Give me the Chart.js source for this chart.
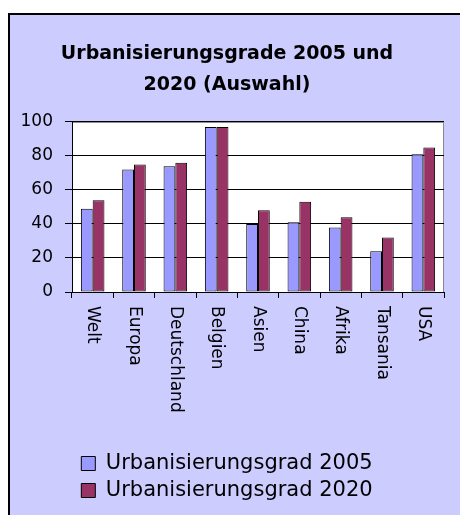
<!DOCTYPE html>
<html>
<head>
<meta charset="utf-8">
<script src="https://cdn.jsdelivr.net/npm/chart.js@4"></script>
<style>
  body { margin: 0; background: #fff; }
  #box {
    position: absolute; left: 8px; top: 13px;
    width: 460px; height: 520px;
    background: #CCCCFF; border: 2px solid #000;
  }
  #chart { position: absolute; left: 0; top: 0; }
</style>
</head>
<body>
<div id="box"><canvas id="chart" width="450" height="502"></canvas></div>
<script>
var categories = ['Welt', 'Europa', 'Deutschland', 'Belgien', 'Asien', 'China', 'Afrika', 'Tansania', 'USA'];
var grad2005 = [49, 72, 74, 97, 40, 41, 38, 24, 81];
var grad2020 = [54, 75, 76, 97, 48, 53, 44, 32, 85];
var yTicks = [0, 20, 40, 60, 80, 100];

var FONT = "'DejaVu Sans', sans-serif";

// white plot area with grey frame
var plotArea = {
    id: 'plotArea',
    beforeDraw: function (chart) {
        var a = chart.chartArea, ctx = chart.ctx;
        ctx.save();
        ctx.fillStyle = '#fff';
        ctx.fillRect(a.left, a.top, a.right - a.left, a.bottom - a.top);
        ctx.strokeStyle = '#888';
        ctx.lineWidth = 1;
        ctx.strokeRect(a.left + 0.5, a.top + 0.5, a.right - a.left - 1, a.bottom - a.top);
        ctx.restore();
    }
};

// category labels turned 90 degrees, reading downward
var turnedLabels = {
    id: 'turnedLabels',
    afterDraw: function (chart) {
        var xs = chart.scales.x, ctx = chart.ctx;
        ctx.save();
        ctx.font = '17px ' + FONT;
        ctx.fillStyle = '#000';
        ctx.textAlign = 'left';
        ctx.textBaseline = 'middle';
        categories.forEach(function (c, i) {
            ctx.save();
            ctx.translate(xs.getPixelForValue(i), xs.top + 14);
            ctx.rotate(Math.PI / 2);
            ctx.fillText(c, 0, 0);
            ctx.restore();
        });
        ctx.restore();
    }
};

new Chart(document.getElementById('chart'), {
    type: 'bar',
    data: {
        labels: categories,
        datasets: [{
            label: 'Urbanisierungsgrad 2005',
            data: grad2005,
            backgroundColor: '#9999FF',
            borderColor: '#000',
            borderWidth: 1,
            borderSkipped: false
        }, {
            label: 'Urbanisierungsgrad 2020',
            data: grad2020,
            backgroundColor: '#993366',
            borderColor: '#000',
            borderWidth: 1,
            borderSkipped: false
        }]
    },
    options: {
        responsive: false,
        animation: false,
        categoryPercentage: 0.57,
        barPercentage: 1.0,
        layout: { padding: { left: 0, right: 16, top: 0, bottom: 6 } },
        plugins: {
            title: {
                display: true,
                text: ['Urbanisierungsgrade 2005 und', '2020 (Auswahl)'],
                color: '#000',
                font: { family: FONT, size: 19, weight: 'bold', lineHeight: 1.63 },
                padding: { top: 24, bottom: 21 }
            },
            legend: {
                position: 'bottom',
                labels: {
                    color: '#000',
                    font: { family: FONT, size: 21 },
                    boxWidth: 14,
                    boxHeight: 14,
                    padding: 6
                }
            },
            tooltip: { enabled: false }
        },
        scales: {
            x: {
                grid: {
                    display: true,
                    drawOnChartArea: false,
                    drawTicks: true,
                    tickLength: 6,
                    color: '#000',
                    offset: true
                },
                border: { color: '#000', width: 1 },
                ticks: { display: false },
                afterFit: function (s) { s.height = 155; }
            },
            y: {
                min: 0,
                max: 100,
                afterBuildTicks: function (s) {
                    s.ticks = yTicks.map(function (v) { return { value: v }; });
                },
                grid: { color: '#000', tickLength: 7, drawTicks: true },
                border: { color: '#000', width: 1 },
                ticks: {
                    color: '#000',
                    font: { family: FONT, size: 17 },
                    padding: 12
                },
                afterFit: function (s) { s.width = 62; }
            }
        }
    },
    plugins: [plotArea, turnedLabels]
});
</script>
</body>
</html>
